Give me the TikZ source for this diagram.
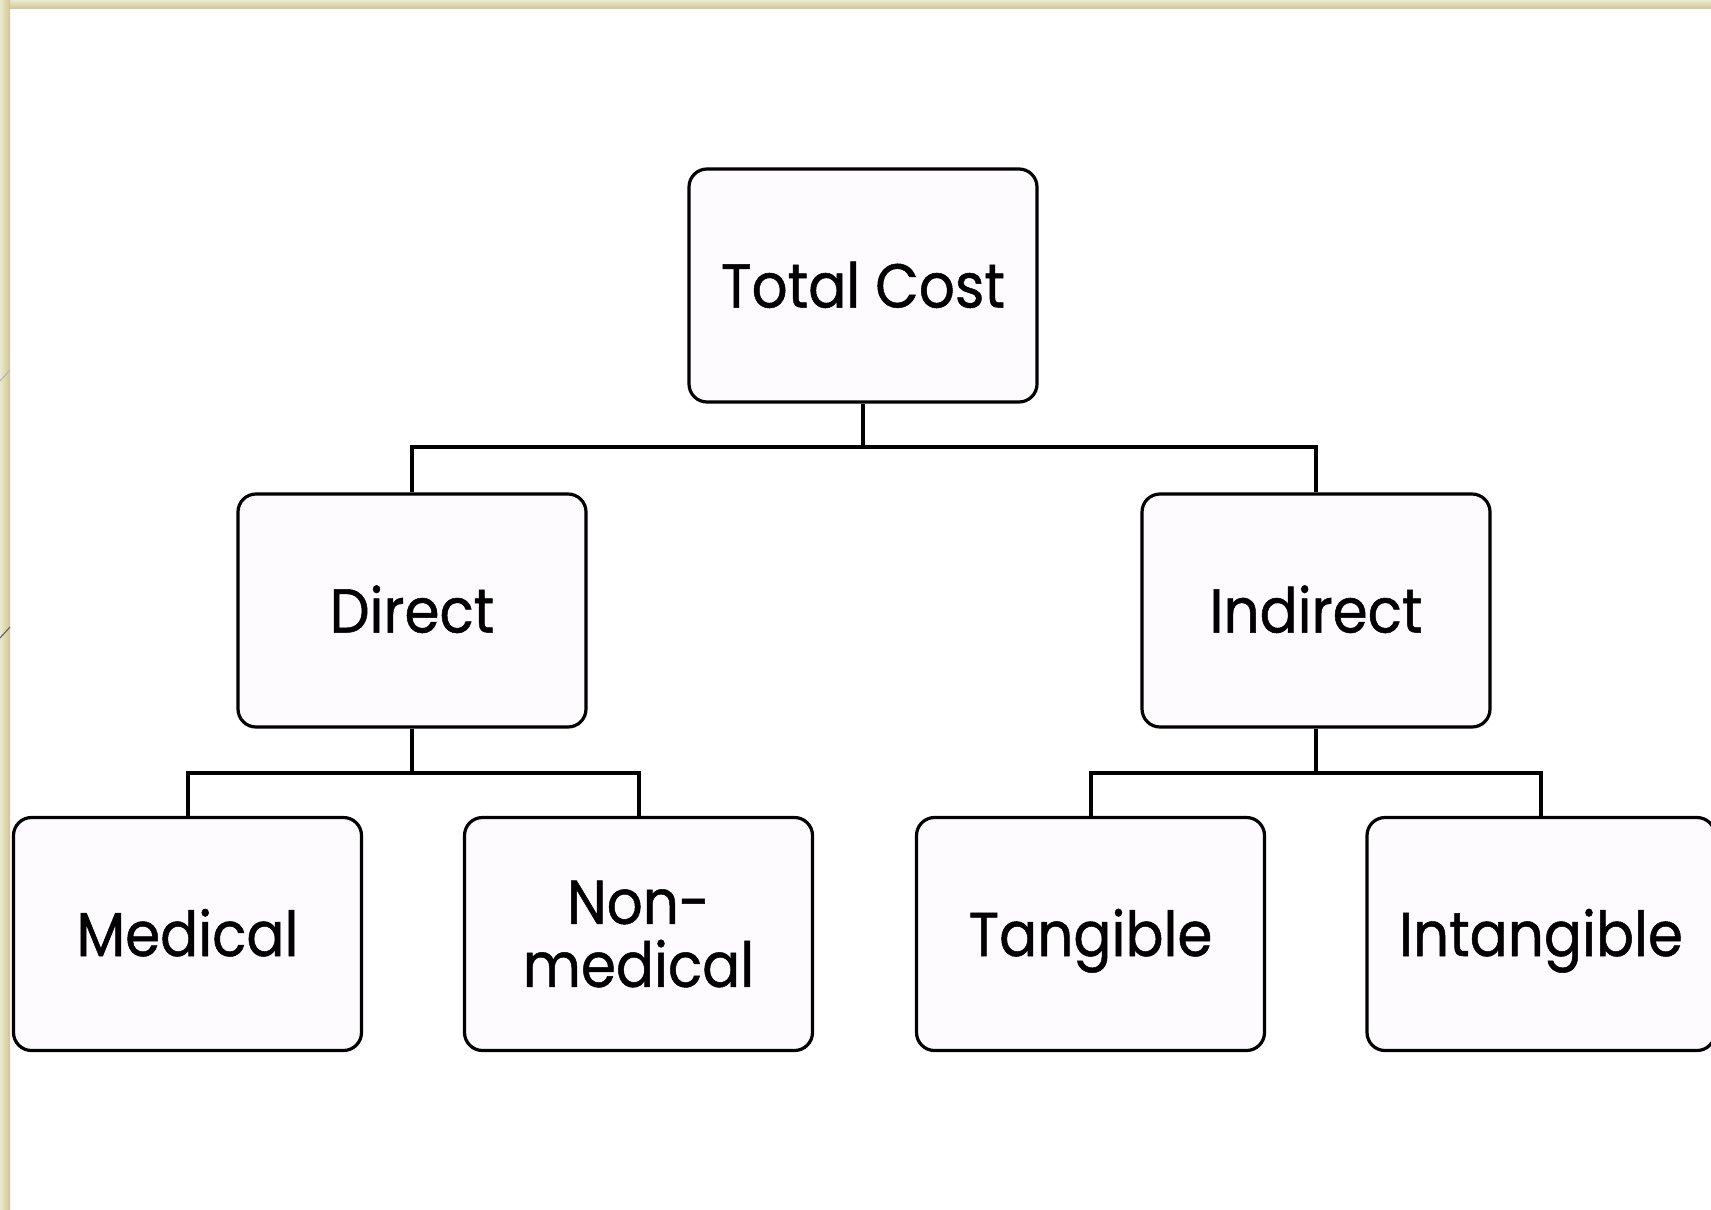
\documentclass[tikz,border=0pt]{standalone}
\usepackage{fontspec}
\setmainfont{Poppins}[FakeStretch=0.91, FakeBold=0.8]
\definecolor{boxfill}{HTML}{FDFBFD}
\definecolor{frameout}{HTML}{E6EBD2}
\definecolor{framein}{HTML}{D4C38D}
\tikzset{
  costbox/.style={draw=black, line width=1.6pt, fill=boxfill, rounded corners=9pt,
    minimum width=174pt, minimum height=116.5pt, align=center,
    font=\fontsize{31}{31.5}\selectfont, inner sep=0pt},
  oneline/.style={text height=22pt, text depth=0pt},
  branch/.style={draw=black, line width=2pt, line join=miter}
}
\begin{document}
\begin{tikzpicture}[x=0.5pt, y=-0.5pt]
  % page and its frame
  \fill[white] (0,0) rectangle (1711,1209);
  \useasboundingbox (0,0) rectangle (1711,1209);
  \shade[top color=frameout, bottom color=framein] (0,0) rectangle (1711,9);
  \shade[left color=frameout, right color=framein] (0,0) rectangle (10,1209);
  \draw[gray!60, line width=0.5pt] (0,381) -- (10,370);
  \draw[black!60, line width=0.6pt] (0,638) -- (10,627);

  % cost tree
  \node[costbox, oneline] (total)      at (863,285.5)  {Total Cost};
  \node[costbox, oneline] (direct)     at (412,610.5)  {Direct};
  \node[costbox, oneline] (indirect)   at (1316,610.5) {Indirect};
  \node[costbox, oneline] (medical)    at (187.5,934)  {Medical};
  \node[costbox]          (nonmedical) at (638.5,934)  {Non-\\medical};
  \node[costbox, oneline] (tangible)   at (1090.5,934) {Tangible};
  \node[costbox, oneline] (intangible) at (1541,934)   {Intangible};

  % junctions of the branches
  \coordinate (j0) at (863,447);
  \coordinate (j1) at (412,773);
  \coordinate (j2) at (1316,773);

  \draw[branch] (total.south) -- (j0);
  \draw[branch] (direct.north) |- (j0) -| (indirect.north);
  \draw[branch] (direct.south) -- (j1);
  \draw[branch] (medical.north) |- (j1) -| (nonmedical.north);
  \draw[branch] (indirect.south) -- (j2);
  \draw[branch] (tangible.north) |- (j2) -| (intangible.north);
\end{tikzpicture}
\end{document}
